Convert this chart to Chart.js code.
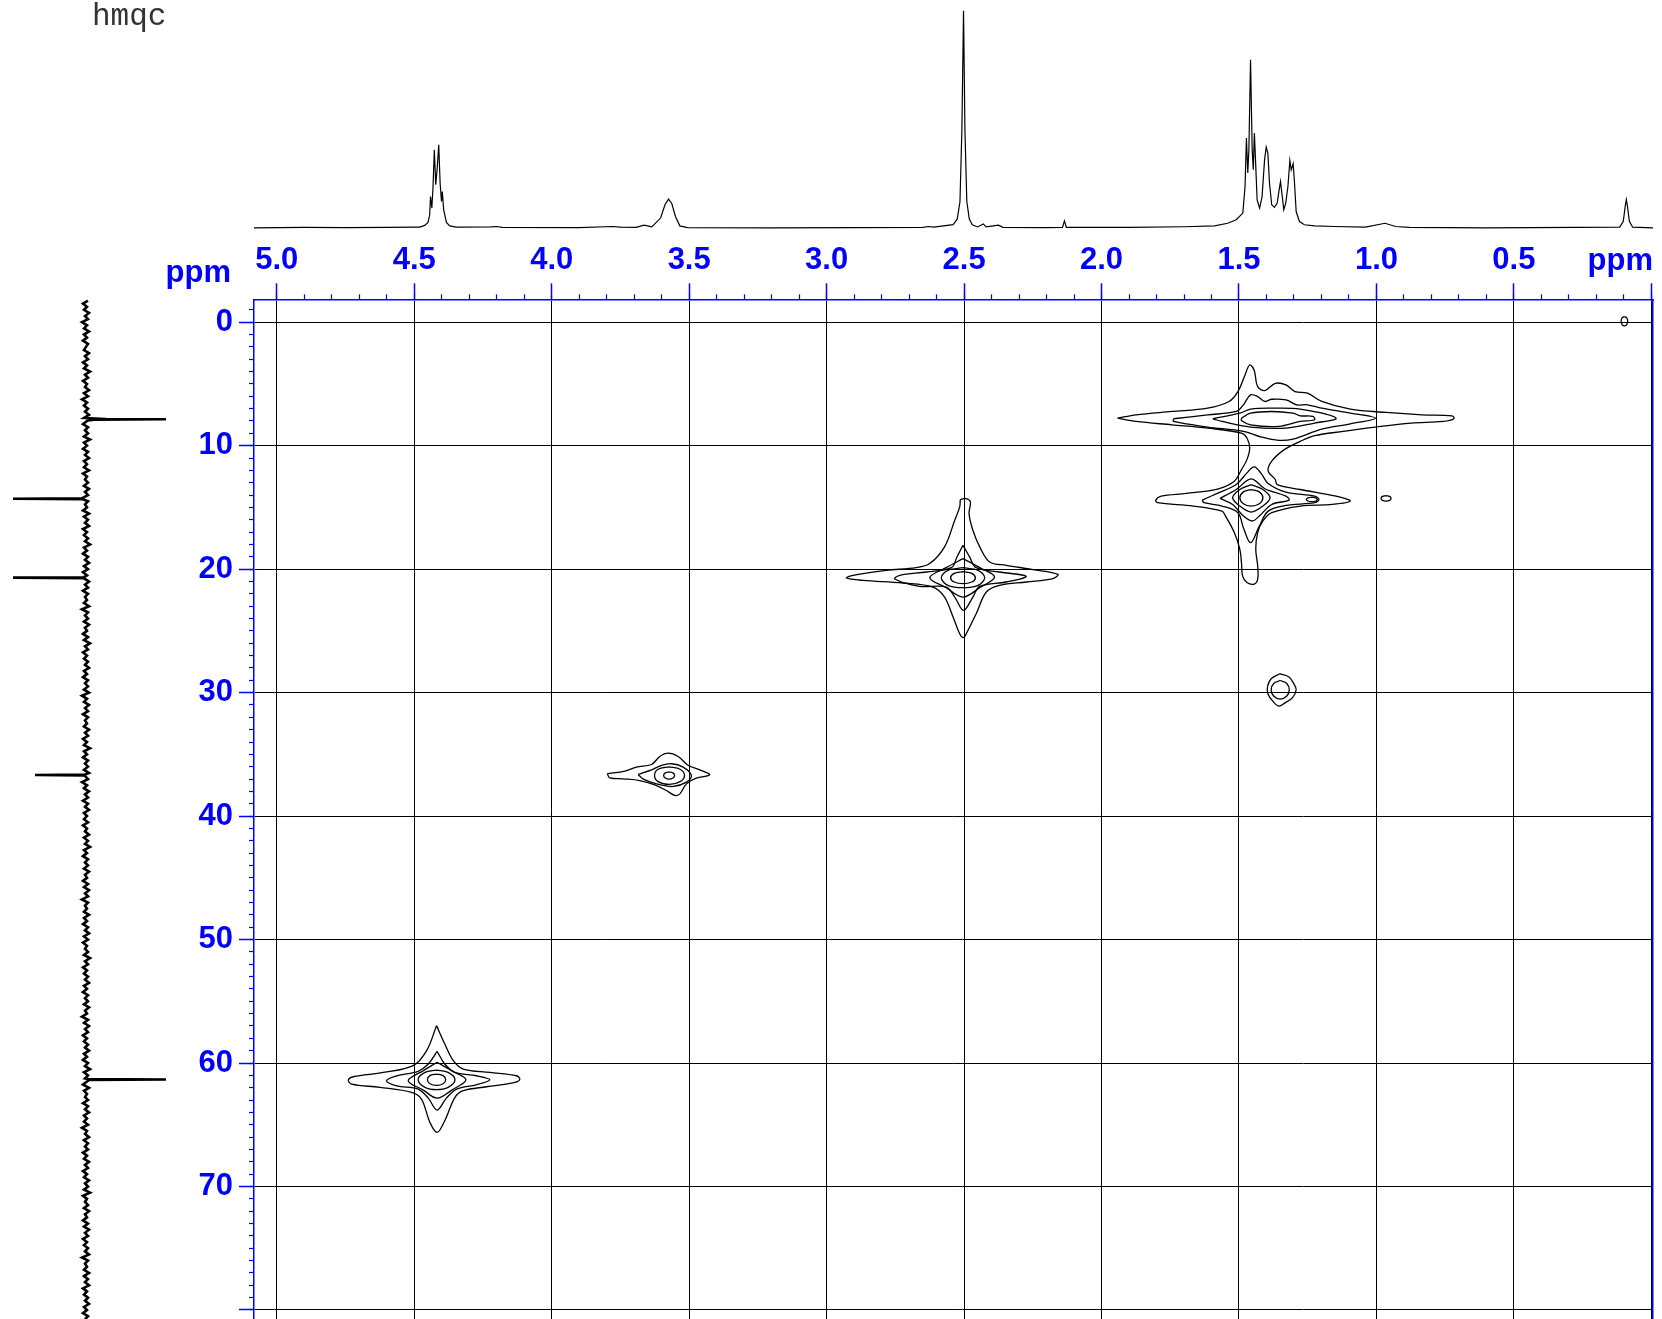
<!DOCTYPE html>
<html>
<head>
  <meta charset="utf-8" />
  <title>hmqc</title>
  <script src="https://cdn.jsdelivr.net/npm/chart.js"></script>
  <style>
    html, body { margin: 0; padding: 0; background: #fff; }
    #wrap { position: relative; width: 1662px; height: 1319px; overflow: hidden; }
    canvas { position: absolute; left: 0; top: 0; }
    .lbl { position: absolute; white-space: nowrap; }
    #title { left: 92px; top: 1px; font: 31px "Liberation Mono", monospace; line-height: 31px; color: #333; }
    .ppm { font: bold 31px "Liberation Sans", Arial, sans-serif; line-height: 31px; color: #0000ff; }
    #ppmTop { right: 9px; top: 244px; }
    #ppmLeft { right: 1431px; top: 256px; }
  </style>
</head>
<body>
<div id="wrap">
  <canvas id="main" width="1662" height="1319"></canvas>
  <canvas id="proton" width="1662" height="230"></canvas>
  <canvas id="carbon" width="254" height="1319"></canvas>
  <div class="lbl" id="title">hmqc</div>
  <div class="lbl ppm" id="ppmTop">ppm</div>
  <div class="lbl ppm" id="ppmLeft">ppm</div>
</div>

<script>
  // 1H projection (top trace): shift in ppm, intensity in % of the 2.50 line
  const protonShift = [
    5.083, 4.90, 4.75, 4.60, 4.50, 4.480, 4.462, 4.450, 4.444, 4.441, 4.436, 4.432, 4.427, 4.422,
    4.417, 4.411, 4.406, 4.401, 4.398, 4.393, 4.383, 4.371, 4.347, 4.22, 4.20, 4.18, 3.90, 3.78,
    3.75, 3.693, 3.664, 3.636, 3.604, 3.588, 3.575, 3.563, 3.550, 3.534, 3.506, 3.20, 2.90, 2.65,
    2.630, 2.61, 2.540, 2.525, 2.515, 2.508, 2.502, 2.497, 2.490, 2.481, 2.470, 2.451, 2.430, 2.420,
    2.375, 2.359, 2.20, 2.142, 2.135, 2.128, 1.90, 1.70, 1.589, 1.541, 1.510, 1.486, 1.478, 1.473,
    1.468, 1.464, 1.458, 1.452, 1.448, 1.444, 1.439, 1.434, 1.425, 1.416, 1.407, 1.401, 1.395, 1.389,
    1.381, 1.371, 1.361, 1.354, 1.349, 1.344, 1.337, 1.330, 1.322, 1.315, 1.310, 1.303, 1.298, 1.292,
    1.280, 1.262, 1.225, 1.153, 1.040, 0.969, 0.93, 0.88, 0.60, 0.115, 0.102, 0.095, 0.091, 0.087,
    0.080, 0.068, -0.006
  ];
  const protonIntensity = [
    0, 0.2, 0.1, 0.2, 0.3, 0.3, 1.1, 2.5, 6.0, 14.4, 9.1, 18.3, 35.9, 19.8,
    26.7, 38.2, 20.6, 12.1, 16.7, 8.3, 2.5, 0.9, 0.3, 0.4, 0.6, 0.2, 0.1, 0.6,
    0.3, 0.2, 1.2, 0.4, 4.5, 10.6, 13.2, 11.1, 5.2, 0.9, 0.1, 0, 0.1, 0.2,
    0.6, 0.3, 1.5, 4, 12, 45, 100, 45, 12, 4, 1.4, 0.4, 1.8, 0.4,
    1.2, 0.2, 0.1, 0.2, 3.2, 0.2, 0.2, 0.5, 0.9, 2.1, 3.7, 6.8, 19.0, 41.3,
    25.2, 35.9, 77.4, 35.9, 26.7, 43.6, 28.3, 12.9, 9.1, 14.4, 31.3, 37.2, 34.4, 20.6,
    10.6, 9.4, 11.4, 17.5, 21.3, 16.0, 8.3, 11.4, 19.0, 31.0, 26.7, 29.5, 20.6, 7.5,
    2.9, 1.4, 0.9, 0.6, 0.3, 2.1, 0.6, 0.2, 0, 0.3, 3, 10, 13, 10,
    3, 0.3, 0
  ];

  // 13C projection (left trace): baseline noise sampled every 0.25 ppm from -1.75 ppm
  const carbonNoiseStart = -1.75;
  const carbonNoiseStep = 0.25;
  const carbonNoise = [
    2,-3,1,-2,3,-1,2,-4,1,-2,3,-2,1,-3,2,0,-2,3,-1,2,
    -3,1,-2,4,-1,2,-3,1,-1,3,-2,2,-4,1,-2,2,-1,3,-2,1,
    -3,2,-1,2,-2,4,-2,1,-3,2,-1,3,-2,1,-2,3,-3,1,-1,2,
    -2,3,-1,2,-4,2,-1,1,-3,3,-2,2,-1,3,-3,1,-2,2,-1,4,
    -2,1,-3,2,-1,3,-2,2,-3,1,-2,3,-1,2,-3,2,-1,1,-2,3,
    -4,2,-1,2,-2,3,-1,1,-3,2,-2,4,-1,2,-3,1,-2,2,-1,3,
    -2,1,-3,2,-1,2,-2,3,-4,1,-2,3,-1,2,-3,2,-1,1,-2,3,
    -1,2,-3,1,-2,4,-2,1,-3,2,-1,2,-2,3,-1,2,-4,1,-2,3,
    -1,2,-3,2,-1,3,-2,1,-2,2,-3,1,-1,3,-2,2,-1,4,-2,1,
    -3,2,-1,2,-2,3,-1,1,-3,2,-2,3,-1,2,-4,2,-1,1,-2,3,
    -2,1,-3,2,-1,3,-2,2,-3,1,-1,2,-2,4,-1,2,-3,1,-2,2,
    -1,3,-2,1,-3,2,-1,2,-2,3,-1,1,-4,2,-2,3,-1,2,-3,1,
    -2,2,-1,3,-2,1,-3,2,-1,4,-2,2,-1,1,-3,3,-2,1,-1,2,
    -3,2,-1,3,-2,1,-2,2,-4,1,-1,3,-2,2,-1,2,-3,1,-2,3,
    -1,2,-3,1,-2,3,-1,2,-2,4,-3,1,-1,2,-2,3,-1,1,-3,2,
    -2,3,-1,2,-3,1,-2,2,-1,3,-4,2,-1,1,-2,3,-2,2,-1,3,
    -3,1,-2,2,-1,3,-2,1,-3,2,-1
  ];
  // 13C lines (shift ppm, intensity; left = negative, right = positive)
  const carbonPeakShift = [7.78, 7.84, 7.86, 7.89, 7.95, 14.26, 14.30, 14.34, 20.65, 20.69, 20.73,
                           36.63, 36.67, 36.71, 61.29, 61.33, 61.37];
  const carbonPeakIntensity = [4, 20, 80, 8, 2, -2, -73, -3, -2, -73, -2,
                               -1, -51, -2, 2, 80, 3];

  // cross peaks: centre [1H ppm, 13C ppm] and contour outlines as offsets from it
  const peakA = [4.419, 61.35];
  const contoursA = [
    [[0,-4.38],[-0.030,-2.89],[-0.061,-1.54],[-0.097,-0.86],[-0.194,-0.59],[-0.291,-0.32],[-0.303,-0.05],
     [-0.285,0.22],[-0.182,0.57],[-0.097,0.89],[-0.067,1.43],[-0.030,3.32],[-0.002,4.27],[0.024,3.46],
     [0.055,1.57],[0.091,1.03],[0.206,0.62],[0.309,0.35],[0.321,0.03],[0.303,-0.24],[0.194,-0.59],
     [0.085,-1.14],[0.036,-2.35]],
    [[-0.002,-2.30],[-0.030,-1.27],[-0.067,-0.59],[-0.145,-0.32],[-0.194,0],[-0.145,0.41],[-0.073,0.76],
     [-0.036,1.49],[-0.002,2.46],[0.030,1.49],[0.067,0.76],[0.145,0.49],[0.182,0.08],[0.145,-0.32],
     [0.067,-0.68],[0.030,-1.27]],
    [[-0.002,-1.41],[-0.055,-0.73],[-0.107,0],[-0.055,0.84],[-0.002,1.49],[0.048,0.84],[0.103,0.08],[0.048,-0.73]],
    [[0,-0.78],[-0.042,-0.59],[-0.067,0],[-0.042,0.62],[0,0.81],[0.042,0.62],[0.067,0],[0.042,-0.59]],
    [[0,-0.46],[-0.024,-0.33],[-0.033,0],[-0.024,0.33],[0,0.46],[0.024,0.33],[0.033,0],[0.024,-0.33]]
  ];

  const peakB = [2.504, 20.69];
  const contoursB = [
    [[0.010,-6.32],[-0.010,-6.41],[-0.027,-6.14],[-0.022,-5.19],[-0.036,-3.84],[-0.061,-2.49],[-0.097,-1.27],
     [-0.158,-1.00],[-0.255,-0.65],[-0.345,-0.27],[-0.327,0.08],[-0.230,0.35],[-0.133,0.62],[-0.085,1.16],
     [-0.048,2.92],[-0.012,4.54],[-0.002,4.86],[0.012,4.54],[0.036,3.19],[0.067,1.57],[0.109,0.76],
     [0.218,0.43],[0.364,0.22],[0.424,0.03],[0.400,-0.19],[0.279,-0.59],[0.170,-0.81],[0.121,-1.14],
     [0.067,-2.49],[0.030,-4.65],[0.012,-5.73]],
    [[0,-2.62],[-0.024,-1.68],[-0.048,-0.81],[-0.133,-0.46],[-0.230,-0.11],[-0.158,0.35],[-0.061,0.70],
     [-0.036,1.57],[-0.002,2.65],[0.030,1.57],[0.061,0.76],[0.158,0.70],[0.248,0.11],[0.230,-0.19],
     [0.133,-0.46],[0.042,-0.81],[0.022,-1.68]],
    [[0,-1.54],[-0.061,-0.81],[-0.115,-0.05],[-0.061,0.81],[0,1.57],[0.061,0.81],[0.121,0],[0.061,-0.81]],
    [[0,-0.81],[-0.055,-0.59],[-0.079,0],[-0.055,0.62],[0,0.81],[0.055,0.62],[0.079,0],[0.055,-0.59]],
    [[0,-0.49],[-0.032,-0.35],[-0.045,0],[-0.032,0.35],[0,0.49],[0.032,0.35],[0.045,0],[0.032,-0.35]]
  ];

  const peakC = [3.573, 36.71];
  const contoursC = [
    [[0.225,-0.14],[0.161,-0.35],[0.119,-0.68],[0.064,-0.89],[0.034,-1.54],[0.004,-1.81],[-0.033,-1.54],
     [-0.070,-0.81],[-0.112,-0.46],[-0.148,-0.05],[-0.099,0.22],[-0.063,0.68],[-0.039,1.49],[-0.021,1.62],
     [0.010,1.22],[0.052,0.76],[0.107,0.41],[0.167,0.27],[0.216,0.19]],
    [[0.113,-0.08],[0.064,-0.46],[0.028,-0.81],[-0.008,-0.95],[-0.051,-0.68],[-0.081,0],[-0.063,0.54],
     [-0.015,0.89],[0.046,0.68],[0.095,0.27]],
    [[0,-0.70],[-0.040,-0.50],[-0.056,0],[-0.040,0.50],[0,0.72],[0.040,0.50],[0.053,0],[0.040,-0.50]],
    [[0,-0.30],[-0.014,-0.21],[-0.020,0],[-0.014,0.21],[0,0.30],[0.014,0.21],[0.020,0],[0.014,-0.21]]
  ];

  // the two overlapping CH2 peaks near 1.4 ppm share the outer contour, given in absolute ppm
  const peakD = [0, 0];
  const contoursD = [
    [[1.942,7.77],[1.874,7.50],[1.744,7.23],[1.614,6.96],[1.536,6.42],[1.504,5.62],[1.478,4.27],[1.461,3.47],
     [1.445,3.87],[1.432,5.22],[1.406,5.54],[1.368,4.95],[1.329,5.08],[1.296,5.62],[1.251,5.75],[1.199,6.42],
     [1.095,7.04],[0.965,7.31],[0.835,7.50],[0.725,7.58],[0.718,7.82],[0.757,8.04],[0.874,8.17],[1.004,8.49],
     [1.121,8.84],[1.225,9.19],[1.277,9.65],[1.335,10.32],[1.381,11.26],[1.394,12.07],[1.368,12.74],
     [1.361,13.15],[1.277,13.55],[1.147,14.09],[1.095,14.49],[1.160,14.76],[1.277,14.89],[1.381,15.43],
     [1.413,16.10],[1.432,17.04],[1.439,18.39],[1.432,19.73],[1.432,20.81],[1.445,21.21],[1.471,21.08],
     [1.487,20.54],[1.491,19.46],[1.497,18.39],[1.517,17.04],[1.549,15.70],[1.562,15.30],[1.666,14.89],
     [1.796,14.62],[1.803,14.41],[1.783,14.09],[1.692,13.87],[1.575,13.49],[1.517,12.88],[1.491,11.94],
     [1.471,11.13],[1.461,10.19],[1.471,9.38],[1.491,8.98],[1.614,8.58],[1.744,8.31],[1.874,8.04]],
    [[1.738,7.82],[1.614,7.50],[1.510,7.23],[1.484,6.69],[1.458,5.89],[1.432,6.02],[1.406,6.42],[1.381,6.24],
     [1.329,6.29],[1.290,6.69],[1.251,6.69],[1.199,6.96],[1.095,7.37],[1.004,7.77],[1.095,8.23],[1.199,8.66],
     [1.303,9.46],[1.355,9.57],[1.419,9.30],[1.484,8.84],[1.614,8.49],[1.738,8.04]],
    [[1.595,7.82],[1.497,7.37],[1.458,7.04],[1.381,6.96],[1.277,7.04],[1.147,7.77],[1.225,8.17],[1.329,8.58],
     [1.458,8.49],[1.562,8.04]],
    [[1.491,7.77],[1.458,7.37],[1.381,7.23],[1.303,7.37],[1.277,7.58],[1.231,7.63],[1.225,7.90],[1.277,8.04],
     [1.355,8.44],[1.458,8.31],[1.491,7.96]],
    [[1.634,14.41],[1.575,13.82],[1.510,13.15],[1.471,12.20],[1.445,11.72],[1.419,12.26],[1.394,13.06],
     [1.329,13.76],[1.225,14.09],[1.209,14.35],[1.225,14.62],[1.329,14.84],[1.394,15.30],[1.426,16.51],
     [1.458,17.85],[1.484,16.64],[1.504,15.43],[1.562,14.89],[1.627,14.62]],
    [[1.569,14.27],[1.510,13.55],[1.456,12.69],[1.406,13.49],[1.329,14.09],[1.318,14.41],[1.381,14.76],
     [1.426,15.70],[1.452,16.10],[1.484,15.70],[1.523,14.76]],
    [[1.456,13.15],[1.413,13.55],[1.387,14.22],[1.413,14.89],[1.456,15.38],[1.497,14.89],[1.523,14.22],[1.497,13.55]],
    [[1.456,13.55],[1.426,13.74],[1.413,14.22],[1.426,14.70],[1.456,14.89],[1.484,14.70],[1.497,14.22],[1.484,13.74]],
    [[1.235,14.17],[1.221,14.22],[1.215,14.35],[1.221,14.48],[1.235,14.53],[1.249,14.48],[1.255,14.35],[1.249,14.22]],
    [[0.965,14.05],[0.952,14.11],[0.947,14.27],[0.952,14.43],[0.965,14.49],[0.978,14.43],[0.983,14.27],[0.978,14.11]]
  ];

  const peakE = [1.350, 29.77];
  const contoursE = [
    [[0.002,-1.30],[-0.032,-1.03],[-0.048,-0.54],[-0.058,0],[-0.044,0.65],[-0.016,1.08],[0.005,1.32],
     [0.027,0.92],[0.045,0.32],[0.046,-0.27],[0.033,-0.89]],
    [[0,-0.75],[-0.023,-0.53],[-0.033,0],[-0.023,0.53],[0,0.75],[0.023,0.53],[0.033,0],[0.023,-0.53]]
  ];

  const peakF = [0.098, -0.08];
  const contoursF = [
    [[0,-0.38],[-0.0085,-0.27],[-0.012,0],[-0.0085,0.27],[0,0.38],[0.0085,0.27],[0.012,0],[0.0085,-0.27]]
  ];

  // axis ranges shared by the three panels
  const xMin = -0.006, xMax = 5.083;
  const yMin = -1.855, yMax = 80.73;
  const blue = '#0000ff';
  const labelFont = { family: "'Liberation Sans', Arial, sans-serif", size: 31, weight: 'bold' };

  const noPlugins = { legend: { display: false }, tooltip: { enabled: false } };

  // fix an axis box size and drop the label overhang padding so the plot area stays put
  function fixBox(width, height) {
    return s => {
      if (width !== null) s.width = width;
      if (height !== null) s.height = height;
      s.paddingLeft = 0; s.paddingRight = 0; s.paddingTop = 0; s.paddingBottom = 0;
    };
  }

  // ---- 2D contour plot ----
  const contourDatasets = [];
  [[peakA, contoursA], [peakB, contoursB], [peakC, contoursC],
   [peakD, contoursD], [peakE, contoursE], [peakF, contoursF]].forEach(([centre, outlines]) => {
    outlines.forEach(outline => {
      const pts = outline.map(p => ({ x: centre[0] + p[0], y: centre[1] + p[1] }));
      pts.push(pts[0]);
      contourDatasets.push({
        data: pts,
        showLine: true,
        pointRadius: 0,
        borderColor: '#000',
        borderWidth: 1.3,
        tension: 0.35,
        fill: false
      });
    });
  });

  new Chart(document.getElementById('main'), {
    type: 'scatter',
    data: { datasets: contourDatasets },
    options: {
      responsive: false,
      animation: false,
      events: [],
      layout: { padding: { left: 0, top: 0, right: 9, bottom: 0 } },
      plugins: noPlugins,
      scales: {
        x: {
          axis: 'x', type: 'linear', position: 'top', reverse: true, min: xMin, max: xMax, weight: 1,
          ticks: {
            stepSize: 0.5, includeBounds: false, autoSkip: false, maxRotation: 0,
            color: blue, font: labelFont, padding: 4,
            callback: v => (Math.abs(v) < 1e-6 ? '' : v.toFixed(1))
          },
          grid: { color: '#000', lineWidth: 1, tickColor: blue, tickLength: 16, tickWidth: 1.5 },
          border: { color: blue, width: 1.5 },
          afterFit: fixBox(null, 299.3)
        },
        xMinor: {
          axis: 'x', type: 'linear', position: 'top', reverse: true, min: xMin, max: xMax, weight: 0,
          ticks: { stepSize: 0.1, includeBounds: false, autoSkip: false, display: false },
          grid: { drawOnChartArea: false, tickColor: blue, tickLength: 5, tickWidth: 1.2 },
          border: { display: false },
          afterFit: fixBox(null, 0)
        },
        y: {
          axis: 'y', type: 'linear', position: 'left', reverse: true, min: yMin, max: yMax, weight: 1,
          ticks: {
            stepSize: 10, includeBounds: false, autoSkip: false,
            color: blue, font: labelFont, padding: 6,
            callback: v => (v >= 80 ? '' : String(v))
          },
          grid: { color: '#000', lineWidth: 1, tickColor: blue, tickLength: 15, tickWidth: 1.5 },
          border: { color: blue, width: 1.5 },
          afterFit: fixBox(254, null)
        },
        yMinor: {
          axis: 'y', type: 'linear', position: 'left', reverse: true, min: yMin, max: yMax, weight: 0,
          ticks: { stepSize: 1, includeBounds: false, autoSkip: false, display: false },
          grid: { drawOnChartArea: false, tickColor: blue, tickLength: 5, tickWidth: 1.2 },
          border: { display: false },
          afterFit: fixBox(0, null)
        },
        yRight: {
          axis: 'y', type: 'linear', position: 'right', reverse: true, min: yMin, max: yMax,
          ticks: { display: false },
          grid: { display: false },
          border: { color: blue, width: 1.5 },
          afterFit: fixBox(0, null)
        }
      }
    }
  });

  // ---- 1H trace on top ----
  new Chart(document.getElementById('proton'), {
    type: 'scatter',
    data: {
      datasets: [{
        data: protonShift.map((s, i) => ({ x: s, y: protonIntensity[i] })),
        showLine: true, pointRadius: 0, borderColor: '#000', borderWidth: 1.2, tension: 0
      }]
    },
    options: {
      responsive: false,
      animation: false,
      events: [],
      layout: { padding: { left: 254, right: 9, top: 10.6, bottom: 0 } },
      plugins: noPlugins,
      scales: {
        x: { type: 'linear', display: false, reverse: true, min: xMin, max: xMax },
        y: { type: 'linear', display: false, min: -1, max: 100 }
      }
    }
  });

  // ---- 13C trace on the left ----
  const carbonTrace = carbonNoise.map((v, i) => ({ x: v, y: carbonNoiseStart + i * carbonNoiseStep }));
  carbonPeakShift.forEach((s, i) => carbonTrace.push({ x: carbonPeakIntensity[i], y: s }));
  carbonTrace.sort((a, b) => a.y - b.y);

  new Chart(document.getElementById('carbon'), {
    type: 'scatter',
    data: {
      datasets: [{
        data: carbonTrace,
        showLine: true, pointRadius: 0, borderColor: '#000', borderWidth: 2.6, tension: 0
      }]
    },
    options: {
      responsive: false,
      animation: false,
      events: [],
      layout: { padding: { left: 13, right: 88, top: 299.3, bottom: 0 } },
      plugins: noPlugins,
      scales: {
        x: { type: 'linear', display: false, min: -73, max: 80 },
        y: { type: 'linear', display: false, reverse: true, min: yMin, max: yMax }
      }
    }
  });
</script>
</body>
</html>
